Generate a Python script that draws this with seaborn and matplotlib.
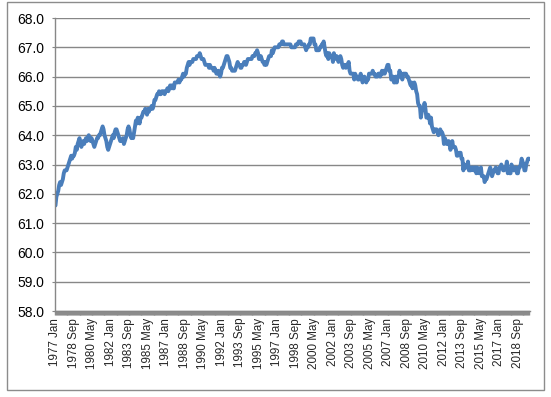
import matplotlib
matplotlib.use("Agg")
import matplotlib.pyplot as plt
import seaborn as sns
import pandas as pd
from matplotlib.patches import Rectangle

# Monthly values, 1977 Jan .. 2019 Sep
y1977 = [61.6, 61.9, 62.0, 62.1, 62.3, 62.4, 62.3, 62.4, 62.5, 62.7, 62.8, 62.8]
y1978 = [62.8, 62.9, 63.0, 63.1, 63.2, 63.3, 63.2, 63.3, 63.3, 63.4, 63.6, 63.5]
y1979 = [63.7, 63.8, 63.9, 63.7, 63.6, 63.7, 63.8, 63.7, 63.8, 63.9, 63.8, 63.9]
y1980 = [64.0, 63.9, 63.8, 63.9, 63.8, 63.7, 63.6, 63.7, 63.8, 63.9, 63.9, 64.0]
y1981 = [64.0, 64.1, 64.2, 64.3, 64.2, 64.0, 63.9, 63.8, 63.6, 63.5, 63.6, 63.7]
y1982 = [63.8, 63.9, 64.0, 63.9, 64.1, 64.2, 64.2, 64.1, 64.0, 63.9, 63.8, 63.8]
y1983 = [63.8, 63.9, 63.7, 63.8, 63.9, 64.0, 64.2, 64.3, 64.2, 64.0, 63.9, 64.0]
y1984 = [63.9, 64.1, 64.3, 64.5, 64.4, 64.6, 64.5, 64.4, 64.6, 64.6, 64.7, 64.8]
y1985 = [64.8, 64.9, 64.8, 64.7, 64.9, 64.8, 64.9, 64.9, 65.0, 64.9, 65.0, 65.2]
y1986 = [65.2, 65.3, 65.4, 65.4, 65.5, 65.4, 65.4, 65.5, 65.5, 65.5, 65.4, 65.5]
y1987 = [65.5, 65.6, 65.5, 65.6, 65.7, 65.6, 65.7, 65.6, 65.6, 65.8, 65.8, 65.8]
y1988 = [65.8, 65.9, 65.8, 65.9, 65.9, 66.0, 66.1, 66.0, 66.1, 66.1, 66.3, 66.4]
y1989 = [66.5, 66.4, 66.5, 66.5, 66.5, 66.6, 66.6, 66.6, 66.6, 66.7, 66.7, 66.7]
y1990 = [66.8, 66.7, 66.6, 66.6, 66.6, 66.5, 66.4, 66.4, 66.4, 66.4, 66.3, 66.4]
y1991 = [66.3, 66.3, 66.3, 66.2, 66.3, 66.2, 66.1, 66.1, 66.2, 66.1, 66.0, 66.1]
y1992 = [66.3, 66.3, 66.4, 66.5, 66.6, 66.7, 66.7, 66.6, 66.5, 66.3, 66.3, 66.2]
y1993 = [66.2, 66.2, 66.2, 66.3, 66.4, 66.5, 66.4, 66.4, 66.3, 66.3, 66.4, 66.4]
y1994 = [66.5, 66.5, 66.4, 66.5, 66.6, 66.6, 66.6, 66.6, 66.6, 66.7, 66.7, 66.7]
y1995 = [66.8, 66.8, 66.9, 66.8, 66.6, 66.6, 66.7, 66.6, 66.5, 66.5, 66.4, 66.5]
y1996 = [66.4, 66.5, 66.6, 66.7, 66.7, 66.7, 66.9, 66.8, 66.9, 67.0, 67.0, 67.0]
y1997 = [67.0, 67.0, 67.1, 67.1, 67.1, 67.2, 67.2, 67.1, 67.1, 67.1, 67.1, 67.1]
y1998 = [67.1, 67.1, 67.1, 67.0, 67.0, 67.0, 67.0, 67.0, 67.1, 67.1, 67.1, 67.2]
y1999 = [67.2, 67.2, 67.1, 67.1, 67.1, 67.1, 67.0, 66.9, 67.0, 67.0, 67.1, 67.1]
y2000 = [67.3, 67.3, 67.3, 67.3, 67.1, 67.1, 66.9, 66.9, 66.9, 66.9, 67.0, 67.0]
y2001 = [67.1, 67.1, 67.2, 67.0, 66.8, 66.7, 66.8, 66.6, 66.8, 66.7, 66.7, 66.7]
y2002 = [66.5, 66.8, 66.6, 66.7, 66.7, 66.6, 66.5, 66.6, 66.7, 66.6, 66.4, 66.3]
y2003 = [66.4, 66.4, 66.3, 66.4, 66.4, 66.5, 66.2, 66.1, 66.1, 66.1, 66.1, 65.9]
y2004 = [66.1, 66.0, 66.0, 65.9, 65.9, 66.0, 66.1, 66.0, 65.8, 65.9, 66.0, 65.9]
y2005 = [65.8, 65.9, 65.9, 66.1, 66.1, 66.1, 66.1, 66.2, 66.1, 66.1, 66.0, 66.0]
y2006 = [66.0, 66.1, 66.1, 66.0, 66.1, 66.2, 66.1, 66.2, 66.1, 66.2, 66.3, 66.4]
y2007 = [66.4, 66.2, 66.2, 65.9, 65.9, 66.0, 65.8, 65.8, 66.0, 65.8, 66.0, 66.0]
y2008 = [66.2, 66.0, 66.1, 65.9, 66.1, 66.1, 66.1, 66.1, 66.0, 66.0, 65.9, 65.8]
y2009 = [65.7, 65.8, 65.6, 65.7, 65.8, 65.7, 65.5, 65.4, 65.1, 65.0, 65.0, 64.6]
y2010 = [64.8, 64.9, 64.9, 65.1, 64.9, 64.6, 64.6, 64.7, 64.6, 64.4, 64.6, 64.3]
y2011 = [64.2, 64.1, 64.2, 64.2, 64.2, 64.1, 64.0, 64.1, 64.2, 64.1, 64.1, 64.0]
y2012 = [63.7, 63.9, 63.8, 63.7, 63.7, 63.8, 63.7, 63.5, 63.6, 63.8, 63.6, 63.6]
y2013 = [63.6, 63.5, 63.3, 63.3, 63.4, 63.4, 63.4, 63.2, 63.2, 62.8, 63.0, 62.9]
y2014 = [62.9, 62.9, 63.1, 62.8, 62.8, 62.8, 62.9, 62.9, 62.8, 62.9, 62.9, 62.7]
y2015 = [62.9, 62.8, 62.7, 62.8, 62.9, 62.6, 62.6, 62.6, 62.4, 62.5, 62.5, 62.6]
y2016 = [62.7, 62.8, 62.9, 62.8, 62.6, 62.7, 62.8, 62.8, 62.9, 62.8, 62.7, 62.7]
y2017 = [62.9, 62.9, 63.0, 62.9, 62.8, 62.8, 62.9, 62.9, 63.1, 62.7, 62.8, 62.7]
y2018 = [62.7, 63.0, 62.9, 62.8, 62.8, 62.9, 62.9, 62.7, 62.7, 62.9, 62.9, 63.0]
y2019 = [63.2, 63.1, 63.0, 62.8, 62.8, 63.0, 63.1, 63.2, 63.2]

years = list(range(1977, 2020))
yearly = [y1977, y1978, y1979, y1980, y1981, y1982, y1983, y1984, y1985, y1986,
          y1987, y1988, y1989, y1990, y1991, y1992, y1993, y1994, y1995, y1996,
          y1997, y1998, y1999, y2000, y2001, y2002, y2003, y2004, y2005, y2006,
          y2007, y2008, y2009, y2010, y2011, y2012, y2013, y2014, y2015, y2016,
          y2017, y2018, y2019]
month_names = ["Jan", "Feb", "Mar", "Apr", "May", "Jun",
               "Jul", "Aug", "Sep", "Oct", "Nov", "Dec"]

labels, values = [], []
for yr, vals in zip(years, yearly):
    for m, v in enumerate(vals):
        labels.append(f"{yr} {month_names[m]}")
        values.append(v)

df = pd.DataFrame({"idx": range(len(values)), "value": values, "label": labels})

sns.set_theme(style="white")
plt.rcParams["font.family"] = ["Liberation Sans", "DejaVu Sans"]

fig = plt.figure(figsize=(5.51, 3.97), dpi=100)
ax = fig.add_axes([55 / 551, 1 - 311 / 397, (529.5 - 55) / 551, (311 - 18) / 397])

sns.lineplot(data=df, x="idx", y="value", ax=ax, color="#4a7ebb", linewidth=2.8)

ax.set_xlim(-0.5, len(values) - 0.5)
ax.set_ylim(58, 68)
ax.set_yticks([58 + i for i in range(11)])
ax.set_yticklabels([f"{58 + i:.1f}" for i in range(11)], fontsize=10, color="black")
ax.yaxis.grid(True, color="#878787", linewidth=1.0)
ax.xaxis.grid(False)

major = list(range(0, len(values), 20))
ax.set_xticks(major)
ax.set_xticklabels([labels[i] for i in major], rotation=90, fontsize=8.4,
                   family=["Liberation Sans Narrow", "Liberation Sans", "DejaVu Sans"])
ax.set_xticks(list(range(len(values))), minor=True)
ax.tick_params(axis="x", which="both", bottom=True, length=3.0, width=1.0,
               color="#8c8c8c", direction="out", pad=2)
ax.tick_params(axis="y", which="major", left=True, length=2.5, width=0.8,
               color="#878787", direction="out", pad=5)
ax.set_xlabel("")
ax.set_ylabel("")

for s in ["top", "right"]:
    ax.spines[s].set_visible(False)
for s in ["left", "bottom"]:
    ax.spines[s].set_color("#878787")
    ax.spines[s].set_linewidth(1.0)

fig.patches.append(Rectangle((7 / 551, 1 - 390 / 397), 537 / 551, 388 / 397,
                             transform=fig.transFigure, fill=False,
                             edgecolor="#8c8c8c", linewidth=1.0))

fig.savefig("out.png", dpi=100)
